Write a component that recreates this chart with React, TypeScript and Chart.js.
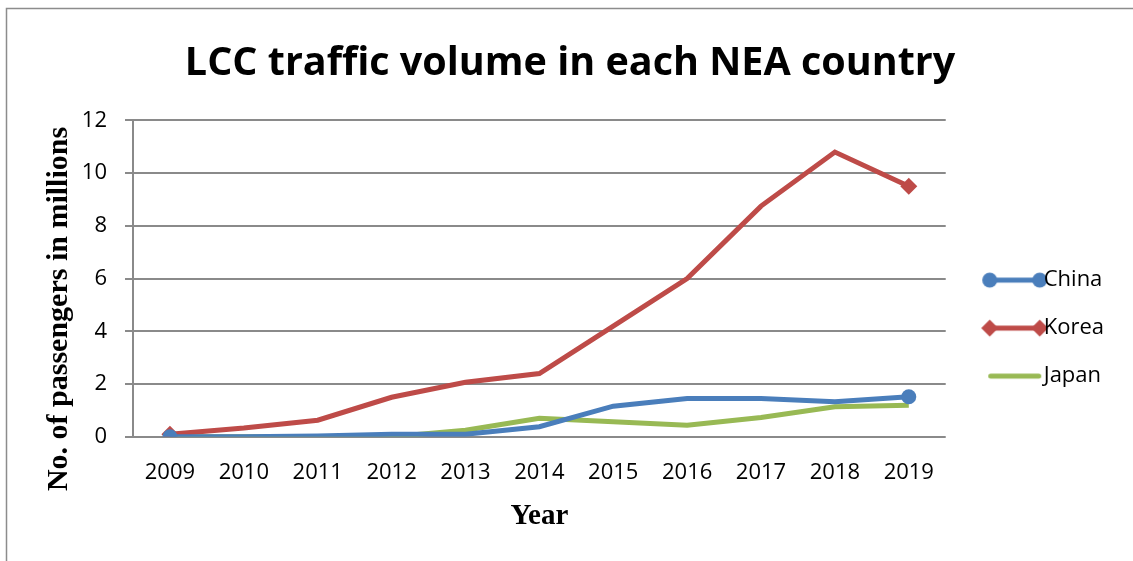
import React, { useEffect, useRef } from 'react';
import { Chart, registerables } from 'chart.js';

Chart.register(...registerables);

const years = ['2009', '2010', '2011', '2012', '2013', '2014', '2015', '2016', '2017', '2018', '2019'];
const china = [0, 0, 0.03, 0.1, 0.1, 0.38, 1.16, 1.45, 1.45, 1.33, 1.52];
const korea = [0.1, 0.33, 0.63, 1.5, 2.07, 2.4, 4.2, 6.0, 8.75, 10.8, 9.5];
const japan = [0, 0, 0, 0, 0.25, 0.7, 0.57, 0.44, 0.73, 1.14, 1.2];
const seriesNames = ['China', 'Korea', 'Japan'];
const chartTitle = 'LCC traffic volume in each NEA country';
const yTitle = 'No. of passengers in millions';
const xTitle = 'Year';

const BLUE = '#4a7ebb';
const RED = '#be4b48';
const GREEN = '#98b954';
const GRID = '#8a8a8a';

function legendImage(kind: 'circle' | 'diamond' | 'none', color: string): HTMLCanvasElement {
  const c = document.createElement('canvas');
  c.width = 94;
  c.height = 20;
  const ctx = c.getContext('2d')!;
  const cx = 59.5;
  const x1 = cx - 25;
  const x2 = cx + 25;
  ctx.strokeStyle = color;
  ctx.fillStyle = color;
  ctx.lineWidth = 5;
  ctx.lineCap = 'round';
  ctx.beginPath();
  if (kind === 'none') {
    ctx.moveTo(x1 + 1, 10);
    ctx.lineTo(x2 - 1, 10);
  } else {
    ctx.moveTo(x1, 10);
    ctx.lineTo(x2, 10);
  }
  ctx.stroke();
  const mark = (x: number) => {
    ctx.beginPath();
    if (kind === 'circle') {
      ctx.arc(x, 10, 7.5, 0, Math.PI * 2);
    } else {
      ctx.moveTo(x - 8.5, 10);
      ctx.lineTo(x, 1.5);
      ctx.lineTo(x + 8.5, 10);
      ctx.lineTo(x, 18.5);
      ctx.closePath();
    }
    ctx.fill();
  };
  if (kind !== 'none') {
    mark(x1);
    mark(x2);
  }
  return c;
}

const endsOnly = (n: number, r: number) => Array.from({ length: n }, (_, i) => (i === 0 || i === n - 1 ? r : 0));

const frameAndTitlePlugin = {
  id: 'frameAndTitle',
  beforeDraw(chart: any) {
    const ctx = chart.ctx;
    ctx.save();
    ctx.fillStyle = '#ffffff';
    ctx.fillRect(0, 0, chart.width, chart.height);
    ctx.strokeStyle = '#8c8c8c';
    ctx.lineWidth = 1.5;
    ctx.strokeRect(6.5, 8.5, chart.width + 20, chart.height + 20);
    ctx.restore();
  },
  afterDraw(chart: any) {
    const ctx = chart.ctx;
    ctx.save();
    ctx.translate(59, 309);
    ctx.rotate(-Math.PI / 2);
    ctx.font = 'bold 30px "Liberation Serif"';
    ctx.fillStyle = '#000000';
    ctx.textAlign = 'center';
    ctx.textBaseline = 'middle';
    ctx.fillText(yTitle, 0, 0);
    ctx.restore();
  },
};

export default function App() {
  const ref = useRef<HTMLCanvasElement | null>(null);

  useEffect(() => {
    if (!ref.current) return;
    const imgs = [legendImage('circle', BLUE), legendImage('diamond', RED), legendImage('none', GREEN)];
    const chart = new Chart(ref.current, {
      type: 'line',
      data: {
        labels: years,
        datasets: [
          {
            label: seriesNames[0],
            data: china,
            borderColor: BLUE,
            backgroundColor: BLUE,
            borderWidth: 5,
            pointRadius: endsOnly(china.length, 7.5),
            pointHoverRadius: 0,
            pointStyle: 'circle',
            pointBorderWidth: 0,
            tension: 0,
          },
          {
            label: seriesNames[1],
            data: korea,
            borderColor: RED,
            backgroundColor: RED,
            borderWidth: 5,
            pointRadius: endsOnly(korea.length, 8.5),
            pointHoverRadius: 0,
            pointStyle: 'rectRot',
            pointBorderWidth: 0,
            tension: 0,
          },
          {
            label: seriesNames[2],
            data: japan,
            borderColor: GREEN,
            backgroundColor: GREEN,
            borderWidth: 5,
            pointRadius: 0,
            pointHoverRadius: 0,
            tension: 0,
          },
        ],
      },
      options: {
        animation: false,
        responsive: false,
        maintainAspectRatio: false,
        events: [],
        layout: { padding: { left: 26, right: 19, top: 0, bottom: 27 } },
        plugins: {
          tooltip: { enabled: false },
          title: {
            display: true,
            text: chartTitle,
            color: '#000000',
            font: { family: '"Open Sans"', size: 39.5, weight: 'bold' },
            padding: { top: 40, bottom: 33 },
          },
          legend: {
            display: true,
            position: 'right',
            align: 'center',
            title: { display: true, text: '', font: { size: 1 }, padding: { top: 121, bottom: 0 } },
            labels: {
              usePointStyle: true,
              pointStyleWidth: 61,
              padding: 26,
              color: '#000000',
              font: { family: '"Open Sans"', size: 22 },
              generateLabels: () =>
                seriesNames.map((name, i) => ({
                  text: name,
                  fontColor: '#000000',
                  pointStyle: imgs[i] as any,
                  fillStyle: 'transparent',
                  strokeStyle: 'transparent',
                  lineWidth: 0,
                  hidden: false,
                  datasetIndex: i,
                })),
            },
          },
        },
        scales: {
          x: {
            type: 'category',
            offset: true,
            grid: { display: false, drawTicks: false },
            border: { display: false },
            ticks: {
              color: '#000000',
              font: { family: '"Open Sans"', size: 22 },
              padding: 23,
              maxRotation: 0,
              autoSkip: false,
            },
            title: {
              display: true,
              text: xTitle,
              color: '#000000',
              font: { family: '"Liberation Serif"', size: 29, weight: 'bold' },
              padding: { top: -10, bottom: 0 },
            },
          },
          y: {
            min: 0,
            max: 12,
            afterFit: (scale: any) => {
              scale.width = 107;
            },
            ticks: {
              stepSize: 2,
              color: '#000000',
              font: { family: '"Open Sans"', size: 22 },
              padding: 18,
            },
            grid: { color: GRID, lineWidth: 2, tickLength: 8, tickColor: GRID, drawTicks: true },
            border: { display: true, color: GRID, width: 2 },
          },
        },
      },
      plugins: [frameAndTitlePlugin],
    });
    return () => chart.destroy();
  }, []);

  return (
    <div style={{ position: 'fixed', left: 0, top: 0, width: 1133, height: 561, background: '#fff' }}>
      <canvas ref={ref} width={1133} height={561} style={{ width: 1133, height: 561, display: 'block' }} />
    </div>
  );
}
